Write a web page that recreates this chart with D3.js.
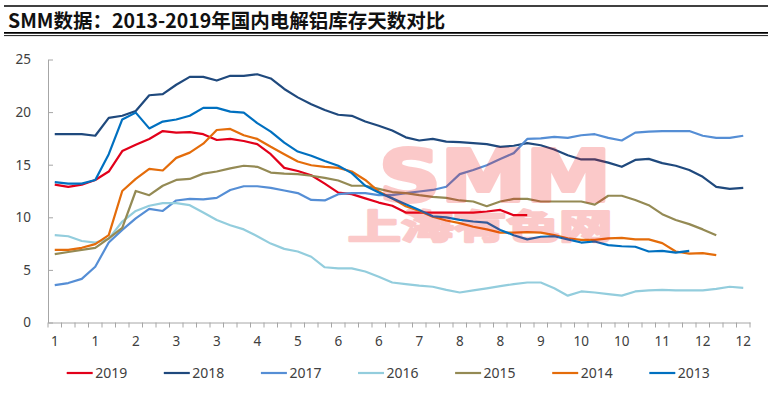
<!DOCTYPE html>
<html>
<head>
<meta charset="utf-8">
<script src="https://cdn.jsdelivr.net/npm/d3@7"></script>
<style>
  body { margin: 0; background: #fff; }
  svg { display: block; font-family: "Noto Sans", "Noto Sans CJK SC", sans-serif; }
</style>
</head>
<body>
<svg id="chart" width="772" height="396"></svg>
<script>
"use strict";

// weekly points, 52 per year
const weeks = d3.range(1, 53);
const tickLabels = ["1", "1", "2", "3", "3", "4", "5", "6", "6", "7", "8", "8", "9", "10", "10", "11", "12", "12"];
const yTicks = [0, 5, 10, 15, 20, 25];

const s2019 = [13.1, 12.9, 13.1, 13.55, 14.35, 16.3, 16.9, 17.45, 18.2, 18.05, 18.1, 17.9, 17.35, 17.45, 17.25, 16.95, 16.0, 14.7,
  14.4, 14.0, 13.2, 12.35, 12.2, 11.8, 11.4, 11.1, 10.45, 10.45, 10.45, 10.45, 10.45, 10.45, 10.55, 10.7, 10.2, 10.2];
const s2018 = [17.9, 17.9, 17.9, 17.75, 19.45, 19.65, 20.1, 21.6, 21.7, 22.6, 23.35, 23.35, 23.0, 23.45, 23.45, 23.6, 23.2, 22.2,
  21.4, 20.75, 20.2, 19.75, 19.65, 19.1, 18.7, 18.25, 17.6, 17.3, 17.45, 17.2, 17.15, 17.05, 16.95, 16.7, 16.8, 17.05,
  16.85, 16.45, 15.9, 15.5, 15.5, 15.2, 14.8, 15.45, 15.55, 15.15, 14.9, 14.5, 13.85, 12.9, 12.7, 12.8];
const s2017 = [3.55, 3.75, 4.15, 5.3, 7.6, 8.8, 9.9, 10.8, 10.6, 11.6, 11.75, 11.7, 11.85, 12.6, 12.95, 12.95, 12.8, 12.55,
  12.3, 11.65, 11.6, 12.2, 12.3, 12.3, 12.1, 12.1, 12.3, 12.45, 12.6, 12.9, 14.1, 14.5, 14.95, 15.55, 16.1, 17.45,
  17.5, 17.65, 17.55, 17.8, 17.9, 17.55, 17.3, 18.05, 18.15, 18.2, 18.2, 18.2, 17.75, 17.55, 17.55, 17.75];
const s2016 = [8.3, 8.2, 7.75, 7.6, 7.95, 9.6, 10.6, 11.1, 11.35, 11.35, 11.15, 10.45, 9.75, 9.25, 8.85, 8.2, 7.5, 7.0,
  6.75, 6.25, 5.25, 5.15, 5.15, 4.85, 4.35, 3.8, 3.65, 3.5, 3.4, 3.1, 2.85, 3.05, 3.25, 3.45, 3.65, 3.8,
  3.8, 3.25, 2.55, 2.95, 2.85, 2.7, 2.55, 2.95, 3.05, 3.1, 3.05, 3.05, 3.05, 3.2, 3.4, 3.3];
const s2015 = [6.5, 6.7, 6.9, 7.1, 8.0, 9.0, 12.5, 12.1, 13.0, 13.55, 13.65, 14.15, 14.35, 14.65, 14.9, 14.8, 14.25, 14.15,
  14.1, 13.95, 13.75, 13.5, 13.0, 13.0, 12.7, 12.4, 12.3, 12.1, 11.95, 11.85, 11.6, 11.5, 11.05, 11.5, 11.75, 11.75,
  11.5, 11.5, 11.5, 11.5, 11.2, 12.05, 12.05, 11.65, 11.15, 10.3, 9.75, 9.35, 8.85, 8.3];
const s2014 = [6.9, 6.9, 7.1, 7.45, 8.3, 12.5, 13.65, 14.6, 14.45, 15.65, 16.15, 17.0, 18.3, 18.4, 17.8, 17.45, 16.7, 16.0,
  15.3, 14.95, 14.8, 14.7, 14.35, 13.55, 12.45, 11.8, 11.05, 10.6, 10.05, 9.7, 9.45, 9.1, 8.85, 8.55, 8.55, 8.6,
  8.55, 8.3, 8.0, 7.85, 7.85, 8.0, 8.05, 7.9, 7.9, 7.55, 6.75, 6.55, 6.6, 6.4];
const s2013 = [13.35, 13.2, 13.2, 13.55, 16.0, 19.3, 19.95, 18.45, 19.1, 19.3, 19.65, 20.4, 20.4, 20.05, 19.95, 18.95, 18.15, 17.1,
  16.25, 15.85, 15.35, 14.9, 14.2, 13.0, 12.35, 11.8, 11.25, 10.7, 10.1, 10.0, 9.75, 9.6, 9.5, 8.8, 8.3, 7.9,
  8.15, 8.2, 7.9, 7.6, 7.7, 7.35, 7.25, 7.2, 6.75, 6.8, 6.65, 6.8];

const seriesNames = ["2019", "2018", "2017", "2016", "2015", "2014", "2013"];
const seriesValues = [s2019, s2018, s2017, s2016, s2015, s2014, s2013];
const colors = ["#e2001a", "#1f497d", "#558ed5", "#93cddd", "#948a54", "#e46c0a", "#0070c0"];

const svg = d3.select("#chart");
const margin = {left: 48, right: 22, top: 59.5, bottom: 73.5};
const width = 772 - margin.left - margin.right;
const height = 396 - margin.top - margin.bottom;

// title block
svg.append("line").attr("x1", 4).attr("x2", 768).attr("y1", 6).attr("y2", 6)
  .attr("stroke", "#000").attr("stroke-width", 1.7);
svg.append("text")
  .attr("x", 8).attr("y", 28)
  .attr("font-family", "'Noto Sans CJK SC', sans-serif")
  .attr("font-weight", "bold")
  .attr("font-size", 19.5)
  .attr("fill", "#111")
  .text("SMM数据：2013-2019年国内电解铝库存天数对比");
svg.append("line").attr("x1", 4).attr("x2", 768).attr("y1", 32.8).attr("y2", 32.8)
  .attr("stroke", "#000").attr("stroke-width", 1.7);
svg.append("line").attr("x1", 4).attr("x2", 768).attr("y1", 35.6).attr("y2", 35.6)
  .attr("stroke", "#000").attr("stroke-width", 0.9);

const chart = svg.append("g").attr("transform", `translate(${margin.left},${margin.top})`);

const x = d3.scaleBand().domain(weeks).range([0, width]);
const y = d3.scaleLinear().domain([0, 25]).range([height, 0]);

// y axis
chart.append("g")
  .attr("class", "yAxis")
  .call(d3.axisLeft(y).tickValues(yTicks).tickSizeInner(-5).tickSizeOuter(0).tickPadding(17));
// x axis, one tick per week, label every third week
const xAxis = chart.append("g")
  .attr("class", "xAxis")
  .attr("transform", `translate(0,${height})`)
  .call(d3.axisBottom(x).tickValues([]).tickSizeOuter(0));
xAxis.selectAll("line.wk")
  .data(d3.range(weeks.length + 1))
  .join("line")
  .attr("class", "wk")
  .attr("x1", d => d * x.step()).attr("x2", d => d * x.step())
  .attr("y1", 0).attr("y2", 5);
xAxis.selectAll("text.lbl")
  .data(tickLabels)
  .join("text")
  .attr("class", "lbl")
  .attr("x", (d, i) => x(weeks[i * 3]) + x.bandwidth() / 2)
  .attr("y", 23)
  .attr("text-anchor", "middle")
  .text(d => d);

chart.selectAll(".domain, .tick line, line.wk").attr("stroke", "#a6a6a6");
chart.selectAll(".yAxis text, .xAxis text")
  .attr("fill", "#404040")
  .attr("font-size", 13.5)
  .attr("font-family", "'Noto Sans', sans-serif");

// lines
const line = d3.line()
  .x((d, i) => x(weeks[i]) + x.bandwidth() / 2)
  .y(d => y(d));

chart.selectAll("path.series")
  .data(seriesValues)
  .join("path")
  .attr("class", "series")
  .attr("fill", "none")
  .attr("stroke", (d, i) => colors[i])
  .attr("stroke-width", 2.2)
  .attr("stroke-linejoin", "round")
  .attr("d", line);

// watermark, heavy pink letters laid over the lines
const wm = svg.append("g").attr("opacity", 0.22).attr("fill", "#f01010").attr("stroke", "#f01010");
wm.append("text")
  .attr("x", 379).attr("y", 201)
  .attr("font-family", "'DejaVu Sans', sans-serif")
  .attr("font-weight", "bold")
  .attr("font-size", 72)
  .attr("stroke-width", 4)
  .attr("stroke-linejoin", "round")
  .attr("textLength", 232)
  .attr("lengthAdjust", "spacingAndGlyphs")
  .text("SMM");
wm.append("text")
  .attr("x", 348).attr("y", 239)
  .attr("font-family", "'Noto Sans CJK SC', sans-serif")
  .attr("font-weight", "bold")
  .attr("font-size", 34)
  .attr("stroke-width", 2.5)
  .attr("stroke-linejoin", "round")
  .attr("textLength", 264)
  .attr("lengthAdjust", "spacingAndGlyphs")
  .text("上海有色网");

// legend
const legend = svg.append("g").attr("class", "legend");
const item = legend.selectAll("g")
  .data(seriesNames)
  .join("g")
  .attr("transform", (d, i) => `translate(${66.7 + i * 97.1},373)`);
item.append("line")
  .attr("x1", 0).attr("x2", 26)
  .attr("stroke", (d, i) => colors[i])
  .attr("stroke-width", 2.2);
item.append("text")
  .attr("x", 28.5).attr("y", 5)
  .attr("font-size", 14)
  .attr("fill", "#404040")
  .text(d => d);
</script>
</body>
</html>
